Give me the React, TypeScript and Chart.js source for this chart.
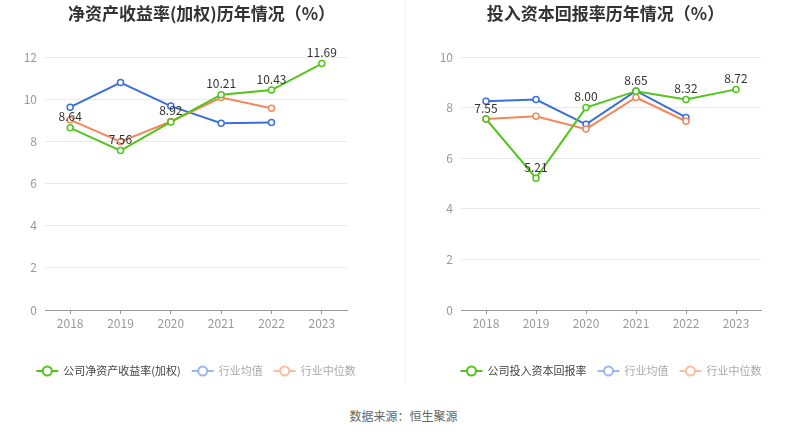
import React, { useEffect, useRef } from "react";
import { Chart, registerables } from "chart.js";

Chart.register(...registerables);

const years = ["2018", "2019", "2020", "2021", "2022", "2023"];

const roeCompany = [8.64, 7.56, 8.92, 10.21, 10.43, 11.69];
const roeMean = [9.62, 10.79, 9.67, 8.86, 8.89];
const roeMedian = [9.02, 7.98, 8.94, 10.08, 9.57];

const roicCompany = [7.55, 5.21, 8.0, 8.65, 8.32, 8.72];
const roicMean = [8.25, 8.32, 7.34, 8.66, 7.61];
const roicMedian = [7.55, 7.66, 7.15, 8.4, 7.46];

const leftTitle = "净资产收益率(加权)历年情况（%）";
const rightTitle = "投入资本回报率历年情况（%）";
const leftLegend = ["公司净资产收益率(加权)", "行业均值", "行业中位数"];
const rightLegend = ["公司投入资本回报率", "行业均值", "行业中位数"];
const sourceText = "数据来源：恒生聚源";

const GREEN = "#52c41a";
const BLUE = "#3a6fdc";
const ORANGE = "#f4865b";
const LEGEND_COLORS = [GREEN, "#9db7ee", "#f8bda5"];
const LEGEND_TEXT = ["#444", "#aaa", "#aaa"];
const FONT = "'Noto Sans CJK SC', 'Microsoft YaHei', sans-serif";

const W = 403;
const H = 395;

function makeChart(
  canvas: HTMLCanvasElement,
  title: string,
  legend: string[],
  company: number[],
  mean: number[],
  median: number[],
  yMax: number,
  axisW: number,
  padRight: number
) {
  const overlay = {
    id: "overlay",
    afterDraw(chart: any) {
      const ctx = chart.ctx as CanvasRenderingContext2D;
      const area = chart.chartArea;
      ctx.save();
      // title
      ctx.font = `bold 17px ${FONT}`;
      ctx.fillStyle = "#333";
      ctx.textAlign = "center";
      ctx.textBaseline = "middle";
      ctx.fillText(title, chart.width / 2, 14);

      // data labels for company series
      const meta = chart.getDatasetMeta(0);
      ctx.font = `12px ${FONT}`;
      ctx.fillStyle = "#333";
      ctx.textBaseline = "bottom";
      meta.data.forEach((pt: any, i: number) => {
        const v = company[i];
        if (v == null) return;
        ctx.fillText(v.toFixed(2), pt.x, pt.y - 5);
      });

      // legend
      ctx.font = `11px ${FONT}`;
      const markerW = 22;
      const gapText = 5;
      const gapItem = 11;
      const widths = legend.map((t) => ctx.measureText(t).width);
      const total =
        widths.reduce((a, b) => a + b, 0) +
        legend.length * (markerW + gapText) +
        (legend.length - 1) * gapItem;
      let x = (area.left + area.right) / 2 - total / 2;
      const y = 371;
      legend.forEach((t, i) => {
        const c = LEGEND_COLORS[i];
        ctx.strokeStyle = c;
        ctx.lineWidth = 2;
        ctx.beginPath();
        ctx.moveTo(x, y);
        ctx.lineTo(x + markerW, y);
        ctx.stroke();
        ctx.beginPath();
        ctx.arc(x + markerW / 2, y, 4.5, 0, Math.PI * 2);
        ctx.fillStyle = "#fff";
        ctx.fill();
        ctx.stroke();
        ctx.fillStyle = LEGEND_TEXT[i];
        ctx.textAlign = "left";
        ctx.textBaseline = "middle";
        ctx.fillText(t, x + markerW + gapText, y);
        x += markerW + gapText + widths[i] + gapItem;
      });
      ctx.restore();
    },
  };

  const ds = (label: string, data: number[], color: string, order: number) => ({
    label,
    data,
    borderColor: color,
    backgroundColor: "#fff",
    borderWidth: 2,
    pointRadius: 3,
    pointBorderWidth: 1.5,
    pointBackgroundColor: "#fff",
    pointBorderColor: color,
    tension: 0,
    order,
  });

  return new Chart(canvas, {
    type: "line",
    data: {
      labels: years,
      datasets: [
        ds(legend[0], company, GREEN, 0),
        ds(legend[1], mean, BLUE, 2),
        ds(legend[2], median, ORANGE, 1),
      ],
    },
    options: {
      responsive: false,
      animation: false,
      devicePixelRatio: 1,
      layout: { padding: { left: 0, right: padRight, top: 57, bottom: H - 310 - 24 } },
      plugins: {
        legend: { display: false },
        title: { display: false },
        tooltip: { enabled: false },
      },
      scales: {
        x: {
          type: "category",
          offset: true,
          grid: {
            display: true,
            drawOnChartArea: false,
            offset: false,
            tickLength: 4,
            color: "#999",
          },
          border: { display: true, color: "#999", width: 1 },
          ticks: { color: "#999", font: { size: 12, family: FONT }, padding: 2, maxRotation: 0 },
          afterFit: (s: any) => {
            s.height = 24;
          },
        },
        y: {
          min: 0,
          max: yMax,
          ticks: { stepSize: 2, color: "#999", font: { size: 12, family: FONT }, padding: 8 },
          grid: { color: "#e6e9ef", drawTicks: false, lineWidth: 1 },
          border: { display: false },
          afterFit: (s: any) => {
            s.width = axisW;
          },
        },
      },
    },
    plugins: [overlay],
  } as any);
}

export default function App() {
  const leftRef = useRef<HTMLCanvasElement>(null);
  const rightRef = useRef<HTMLCanvasElement>(null);

  useEffect(() => {
    document.body.style.margin = "0";
    const a = makeChart(leftRef.current!, leftTitle, leftLegend, roeCompany, roeMean, roeMedian, 12, 45, W - 347);
    const b = makeChart(rightRef.current!, rightTitle, rightLegend, roicCompany, roicMean, roicMedian, 10, 461 - 404, 807 - 761);
    return () => {
      a.destroy();
      b.destroy();
    };
  }, []);

  return (
    <div style={{ position: "relative", width: 807, height: 436, background: "#fff", overflow: "hidden" }}>
      <canvas ref={leftRef} width={W} height={H} style={{ position: "absolute", left: 0, top: 0, width: W, height: H }} />
      <div style={{ position: "absolute", left: 405, top: 0, width: 1, height: 385, background: "#f2f2f2" }} />
      <canvas ref={rightRef} width={W} height={H} style={{ position: "absolute", left: 404, top: 0, width: W, height: H }} />
      <div
        style={{
          position: "absolute",
          left: 0,
          width: 807,
          top: 407,
          textAlign: "center",
          fontFamily: FONT,
          fontSize: 12,
          color: "#666",
          lineHeight: "18px",
        }}
      >
        {sourceText}
      </div>
    </div>
  );
}
